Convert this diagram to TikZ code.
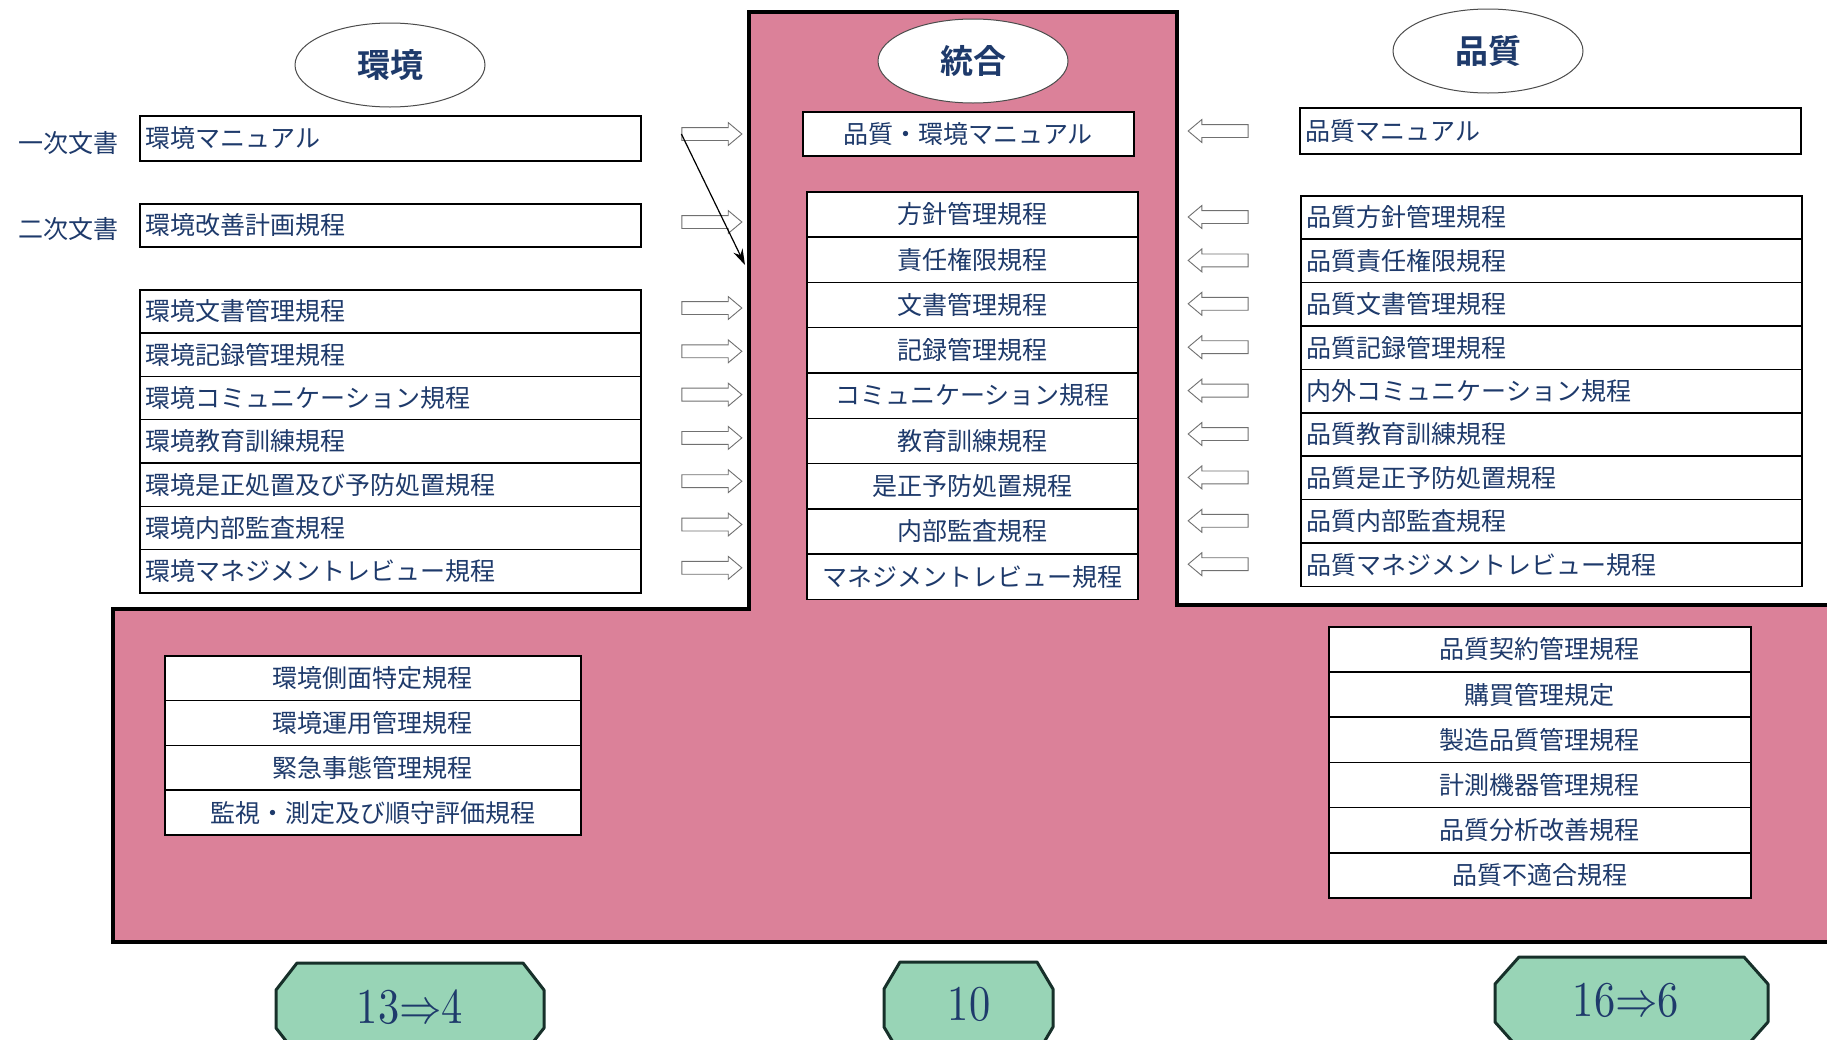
\documentclass[tikz,border=0pt]{standalone}
\usepackage{fontspec}
\setmainfont{Noto Sans CJK JP}[BoldFont={Noto Sans CJK JP Bold}]
\newfontfamily\numfont{Latin Modern Math}[FakeStretch=0.85]
\usetikzlibrary{shapes.geometric,shapes.arrows,calc,arrows.meta}
\definecolor{navy}{HTML}{1E3A6B}
\definecolor{tpink}{HTML}{DB8199}
\definecolor{octgreen}{HTML}{98D4B6}
\definecolor{octline}{HTML}{17302A}
\definecolor{arrgrey}{HTML}{707070}
\begin{document}
\begin{tikzpicture}[x=1pt,y=-1pt,
  doc/.style={draw=black, line width=1.5pt, fill=white, text=navy,
    font=\fontsize{25}{28}\selectfont, inner ysep=0pt, anchor=north west},
  lbox/.style={doc, text width=489pt, align=left, inner xsep=6pt, minimum height=#1},
  lbox/.default=43.3pt,
  cbox/.style={doc, text width=#1, align=center, inner xsep=0pt, minimum height=45pt},
  title/.style={ellipse, draw=black!70, line width=1pt, fill=white, text=navy,
    minimum width=190pt, minimum height=84pt, font=\fontsize{33}{36}\selectfont\bfseries},
  side/.style={text=navy, font=\fontsize{25}{28}\selectfont},
  rarr/.style={single arrow, draw=arrgrey, fill=white, line width=0.9pt,
    minimum height=60pt, single arrow head extend=5pt,
    single arrow tip angle=80, inner xsep=0pt, inner ysep=6pt},
  larr/.style={rarr, shape border rotate=180},
  oct/.style={draw=octline, fill=octgreen, line width=3pt, line join=round},
  num/.style={text=navy, font=\numfont\fontsize{50}{54}\selectfont}
]
\useasboundingbox (0,0) rectangle (1827,1039);
\clip (0,0) rectangle (1827,1039);
\fill[white] (0,0) rectangle (1827,1039);

% pink T-shaped area
\draw[fill=tpink, line width=4pt, line join=miter]
  (749,12) -- (1177,12) -- (1177,605) -- (1840,605) -- (1840,942)
  -- (113,942) -- (113,609) -- (749,609) -- cycle;

% titles
\node[title] (te) at (390,65) {環境};
\node[title] (tt) at (973,61) {統合};
\node[title] (tq) at (1488,51) {品質};

% side labels
\node[side] (s1) at (68,143) {一次文書};
\node[side] (s2) at (68,229) {二次文書};

% left column
\node[lbox=45pt] (l0) at (139,115) {環境マニュアル};
\node[lbox=43pt] (l1) at (139,203) {環境改善計画規程};
\foreach \t [count=\i from 0] in {環境文書管理規程,環境記録管理規程,環境コミュニケーション規程,環境教育訓練規程,環境是正処置及び予防処置規程,環境内部監査規程,環境マネジメントレビュー規程}
  \node[lbox] (ls\i) at (139,{289+43.3*\i}) {\t};

% middle column
\node[cbox=331pt, minimum height=44pt] (m0) at (802,111) {品質・環境マニュアル};
\foreach \t [count=\i from 0] in {方針管理規程,責任権限規程,文書管理規程,記録管理規程,コミュニケーション規程,教育訓練規程,是正予防処置規程,内部監査規程,マネジメントレビュー規程}
  \node[cbox=331pt, minimum height=45.3pt] (ms\i) at (806,{191+45.3*\i}) {\t};

% right column
\node[lbox=46pt] (r0) at (1299,107) {品質マニュアル};
\foreach \t [count=\i from 0] in {品質方針管理規程,品質責任権限規程,品質文書管理規程,品質記録管理規程,内外コミュニケーション規程,品質教育訓練規程,品質是正予防処置規程,品質内部監査規程,品質マネジメントレビュー規程}
  \node[lbox=43.4pt] (rs\i) at (1300,{195+43.4*\i}) {\t};

% bottom left stack
\foreach \t [count=\i from 0] in {環境側面特定規程,環境運用管理規程,緊急事態管理規程,監視・測定及び順守評価規程}
  \node[cbox=416pt, minimum height=44.8pt] (bl\i) at (164,{655+44.8*\i}) {\t};

% bottom right stack
\foreach \t [count=\i from 0] in {品質契約管理規程,購買管理規定,製造品質管理規程,計測機器管理規程,品質分析改善規程,品質不適合規程}
  \node[cbox=422pt, minimum height=45.2pt] (br\i) at (1328,{626+45.2*\i}) {\t};

% left arrows (pointing right)
\node[rarr] (la0) at (708,134) {};
\node[rarr] (la1) at (708,222) {};
\foreach \i in {0,...,6}
  \node[rarr] (las\i) at (708,{308+43.3*\i}) {};

% right arrows (pointing left)
\node[larr] (ra0) at (1222,131) {};
\foreach \i in {0,...,8}
  \node[larr] (ras\i) at (1222,{217+43.4*\i}) {};

% thin arrow
\coordinate (pe) at (745,265);
\draw[line width=1.2pt, -{Stealth[length=16pt,width=10pt]}] (la0.tail) -- (pe);

% bottom octagons
\draw[oct] (297,963) -- (523,963) -- (544,990) -- (544,1028) -- (523,1055)
  -- (297,1055) -- (276,1028) -- (276,990) -- cycle;
\draw[oct] (900,962) -- (1037,962) -- (1053,989) -- (1053,1027) -- (1037,1054)
  -- (900,1054) -- (884,1027) -- (884,989) -- cycle;
\draw[oct] (1519,957) -- (1744,957) -- (1768,984) -- (1768,1022) -- (1744,1049)
  -- (1519,1049) -- (1495,1022) -- (1495,984) -- cycle;
\node[num] (o1) at (410,1007) {13⇒4};
\node[num] (o2) at (969,1004) {10};
\node[num] (o3) at (1626,1000) {16⇒6};
\end{tikzpicture}
\end{document}
